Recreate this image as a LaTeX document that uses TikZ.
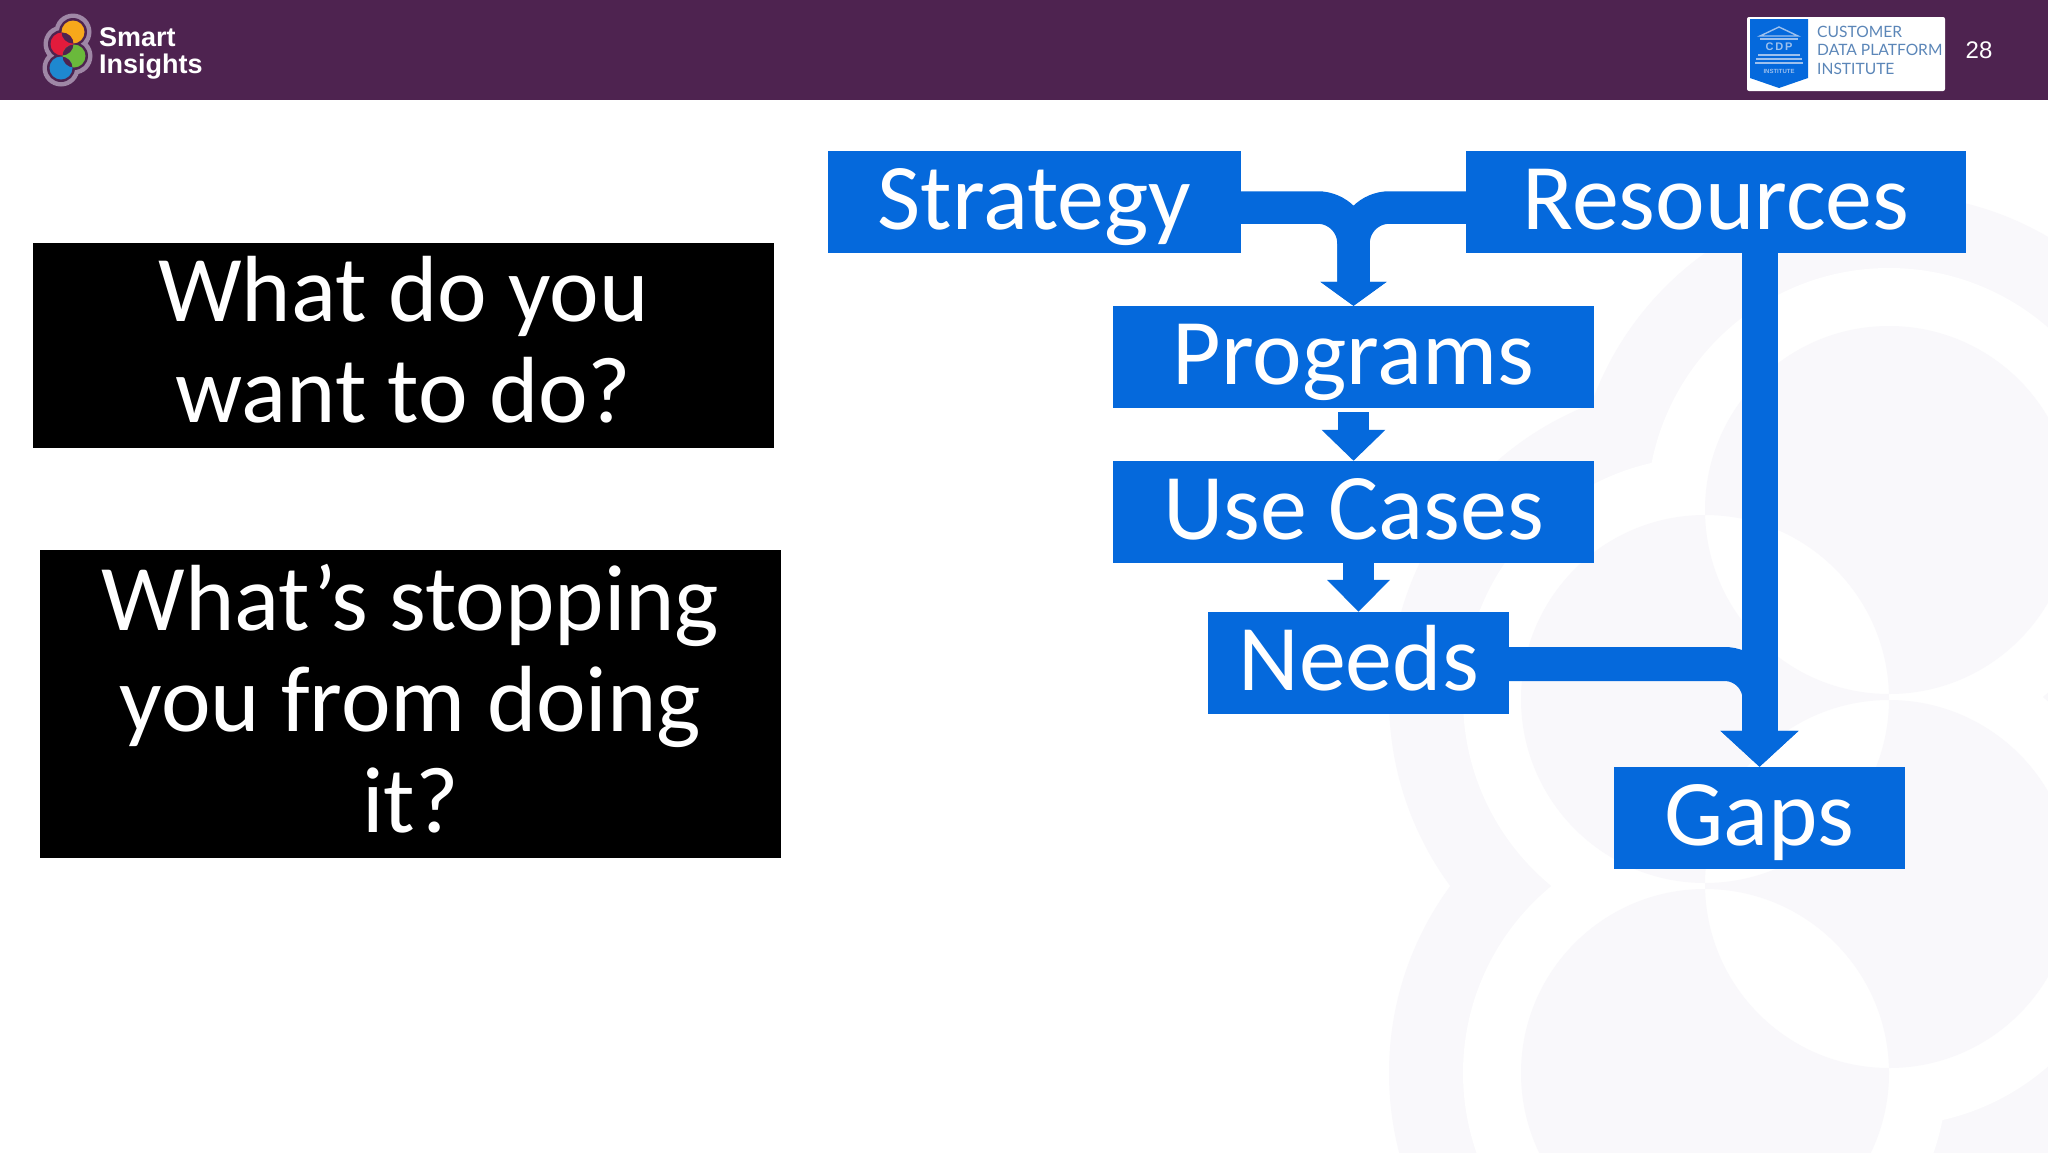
\documentclass[tikz,border=0pt]{standalone}
\usepackage{fontspec}
\setmainfont{Carlito}
\newfontfamily\arialfont{Liberation Sans}
\newfontfamily\latofont{Lato}
\usetikzlibrary{arrows.meta}
\definecolor{hdr}{HTML}{4E2350}
\definecolor{flow}{HTML}{0569DC}
\definecolor{wm}{HTML}{F9F8FB}
\definecolor{wmband}{HTML}{F9F8FB}
\definecolor{ringc}{HTML}{9F87A6}
\definecolor{cdptext}{HTML}{5B86B8}
\definecolor{cdpline}{HTML}{9CC0EE}
\definecolor{lorange}{HTML}{F7A81B}
\definecolor{lred}{HTML}{E21B3C}
\definecolor{lgreen}{HTML}{6AB93B}
\definecolor{lblue}{HTML}{1E88D0}
\tikzset{
  flowbox/.style={fill=flow,text=white,inner sep=0pt,text height=78pt,text depth=24pt,
    font=\fontsize{94}{100}\selectfont},
  blackbox/.style={fill=black,text=white,inner sep=0pt,align=center,minimum width=741pt,
    font=\fontsize{94}{101}\selectfont},
  flowline/.style={draw=flow,line cap=butt},
  cdpstroke/.style={draw=cdpline,line width=1.4pt},
  cdplabel/.style={text=cdptext,inner sep=0pt,anchor=base west,font=\latofont\fontsize{15.6}{16}\selectfont},
  logotext/.style={text=white,inner sep=0pt,anchor=base west,font=\arialfont\bfseries\fontsize{27}{27}\selectfont},
}
\begin{document}
\begin{tikzpicture}[x=1pt,y=-1pt]
\useasboundingbox (0,0) rectangle (2048,1152);
\fill[white] (0,0) rectangle (2048,1152);
% watermark
\begin{scope}
\clip (0,0) rectangle (2048,1152);
\fill[wmband] (1705,699) circle (316pt) (1705,1073) circle (316pt) (1889,510) circle (316pt) (1889,884) circle (316pt);
\fill[white] (1705,699) circle (242pt) (1705,1073) circle (242pt) (1889,510) circle (242pt) (1889,884) circle (242pt);
\fill[wm,even odd rule] (1705,699) circle (184pt) (1705,1073) circle (184pt) (1889,510) circle (184pt) (1889,884) circle (184pt);
\end{scope}
% header
\fill[hdr] (0,0) rectangle (2048,100);
% small logo
\fill[ringc] (73,32) circle (18.5pt) (62,44) circle (18.5pt) (74,56) circle (18.5pt) (61,68) circle (18.5pt);
\fill[hdr] (73,32) circle (14pt) (62,44) circle (14pt) (74,56) circle (14pt) (61,68) circle (14pt);
\fill[lorange] (73,32) circle (11.5pt);
\fill[lred] (62,44) circle (11.5pt);
\fill[lgreen] (74,56) circle (11.5pt);
\fill[lblue] (61,68) circle (11.5pt);
\begin{scope}\clip (73,32) circle (11.5pt); \fill[hdr] (62,44) circle (11.5pt);\end{scope}
\begin{scope}\clip (74,56) circle (11.5pt); \fill[hdr] (62,44) circle (11.5pt);\end{scope}
\begin{scope}\clip (74,56) circle (11.5pt); \fill[hdr] (61,68) circle (11.5pt);\end{scope}
\node[logotext] (lsmart) at (99,46) {Smart};
\node[logotext] (linsights) at (99,73) {Insights};
% CDP logo
\fill[white,rounded corners=2pt] (1747,17) rectangle (1945,91);
\fill[flow] (1750,19) -- (1808,19) -- (1808,78) -- (1779,88) -- (1750,78) -- cycle;
\draw[cdpstroke] (1760,36) -- (1779,27) -- (1798,36) -- cycle;
\draw[cdpstroke] (1760,39) -- (1798,39);
\draw[cdpstroke] (1758,55) -- (1800,55);
\draw[cdpstroke] (1756,59) -- (1802,59);
\draw[cdpstroke] (1755,63) -- (1803,63);
\node[text=cdpline,inner sep=0pt,font=\arialfont\bfseries\fontsize{11}{11}\selectfont] (cdpmark) at (1779,47) {C\,D\,P};
\node[text=cdpline,inner sep=0pt,font=\arialfont\bfseries\fontsize{6}{6}\selectfont] (cdpinst) at (1779,71) {INSTITUTE};
\node[cdplabel] (cdpa) at (1817,37) {CUSTOMER};
\node[cdplabel] (cdpb) at (1817,55) {DATA PLATFORM};
\node[cdplabel] (cdpc) at (1817,74) {INSTITUTE};
\node[text=white,inner sep=0pt,font=\arialfont\fontsize{24}{24}\selectfont] (pageno) at (1979,50) {28};
% black boxes
\node[blackbox,minimum height=205pt] (q1) at (403.5,345.5) {What do you\\want to do?\rule[-12pt]{0pt}{12pt}};
\node[blackbox,minimum height=308pt] (q2) at (410.5,704) {What’s stopping\\you from doing\\it?\rule[-12pt]{0pt}{12pt}};
% flow boxes
\node[flowbox,minimum width=413pt] (strat) at (1034.5,202) {Strategy};
\node[flowbox,minimum width=500pt] (res) at (1716,202) {Resources};
\node[flowbox,minimum width=481pt] (prog) at (1353.5,357) {Programs};
\node[flowbox,minimum width=481pt] (uc) at (1353.5,512) {Use Cases};
\node[flowbox,minimum width=301pt] (needs) at (1358.5,663) {Needs};
\node[flowbox,minimum width=291pt] (gaps) at (1759.5,818) {Gaps};
% connectors
\coordinate (merge) at (1353.5,207.5);
\coordinate (joinG) at (1759.5,664);
\draw[flowline,line width=32.5pt,rounded corners=36pt,-{Triangle[length=24pt,width=65pt]}]
  (strat.east |- merge) -- (merge) -- (prog.north);
\draw[flowline,line width=32.5pt,rounded corners=36pt,-{Triangle[length=24pt,width=65pt]}]
  (res.west |- merge) -- (merge) -- (prog.north);
\draw[flowline,line width=31pt,-{Triangle[length=31pt,width=62pt]}]
  ([yshift=-4pt]prog.south) -- (uc.north);
\draw[flowline,line width=31pt,-{Triangle[length=32pt,width=61pt]}]
  (uc.south -| needs.north) -- (needs.north);
\draw[flowline,line width=34pt,rounded corners=35pt,-{Triangle[length=36pt,width=76pt]}]
  (needs.east |- joinG) -- (joinG) -- (gaps.north);
\draw[flowline,line width=36pt,-{Triangle[length=36pt,width=76pt]}]
  (res.south -| gaps.north) -- (gaps.north);
\end{tikzpicture}
\end{document}
